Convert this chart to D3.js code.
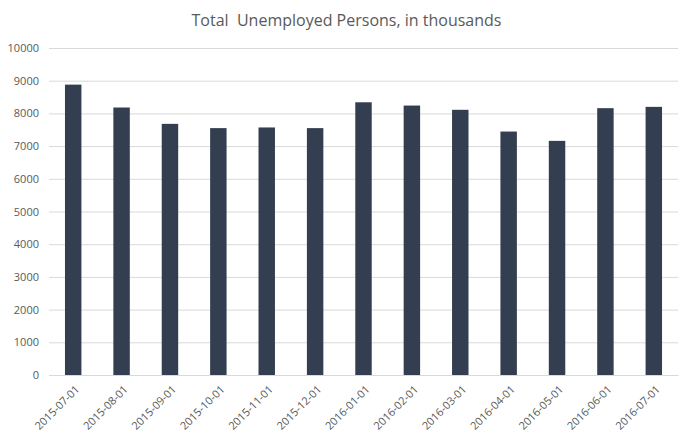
<!DOCTYPE html>
<html>
<head>
<meta charset="utf-8">
<script src="https://cdn.jsdelivr.net/npm/d3@7"></script>
<style>
  body { margin: 0; background: #fff; }
  svg { display: block; }
</style>
</head>
<body>
<div id="chart"></div>
<script>
// data
const aMonth = ["2015-07-01", "2015-08-01", "2015-09-01", "2015-10-01", "2015-11-01", "2015-12-01",
  "2016-01-01", "2016-02-01", "2016-03-01", "2016-04-01", "2016-05-01", "2016-06-01", "2016-07-01"];
const aUnemployed = [8880, 8180, 7680, 7550, 7570, 7550, 8340, 8240, 8110, 7445, 7160, 8160, 8200];
const aYTick = [0, 1000, 2000, 3000, 4000, 5000, 6000, 7000, 8000, 9000, 10000];
const sTitle = "Total\u00a0 Unemployed Persons, in thousands";

const iWidth = 693, iHeight = 441;
const oMargin = { top: 48, right: 15, bottom: 66, left: 49 }; // plot area
const iWidthInner = iWidth - oMargin.left - oMargin.right;
const iHeightInner = iHeight - oMargin.top - oMargin.bottom;
const sFont = "'Open Sans', 'Noto Sans', sans-serif";
const sTextColor = "#595959";

const d3Svg = d3.select("#chart").append("svg")
  .attr("width", iWidth)
  .attr("height", iHeight);

const d3XScale = d3.scaleBand().domain(aMonth).range([0, iWidthInner])
  .paddingInner(0.66).paddingOuter(0.33);
const d3YScale = d3.scaleLinear().domain([0, 10000]).range([iHeightInner, 0]);

// title
d3Svg.append("text")
  .attr("x", iWidth / 2)
  .attr("y", 26)
  .attr("text-anchor", "middle")
  .attr("font-family", sFont)
  .attr("font-size", "16px")
  .attr("fill", sTextColor)
  .text(sTitle);

const g = d3Svg.append("g").attr("transform", `translate(${oMargin.left},${oMargin.top})`);

// gridlines + y labels
const gY = g.append("g").call(d3.axisLeft(d3YScale).tickValues(aYTick).tickFormat(d3.format("d"))
  .tickSize(-iWidthInner).tickPadding(10));
gY.select(".domain").remove();
gY.selectAll(".tick line").attr("stroke", "#d9d9d9").attr("stroke-width", 1);
gY.selectAll(".tick text")
  .attr("font-family", sFont)
  .attr("font-size", "11px")
  .attr("fill", sTextColor);

// bars
g.selectAll("rect").data(aUnemployed)
  .enter()
  .append("rect")
  .attr("x", (v, i) => d3XScale(aMonth[i]))
  .attr("y", v => d3YScale(v))
  .attr("width", d3XScale.bandwidth())
  .attr("height", v => iHeightInner - d3YScale(v))
  .attr("fill", "#333f50");

// x labels, rotated
const gX = g.append("g").attr("transform", `translate(0,${iHeightInner})`)
  .call(d3.axisBottom(d3XScale).tickSize(0).tickPadding(0));
gX.select(".domain").attr("stroke", "#d9d9d9");
gX.selectAll(".tick text")
  .attr("font-family", sFont)
  .attr("font-size", "11px")
  .attr("fill", sTextColor)
  .attr("text-anchor", "end")
  .attr("dy", 0)
  .attr("transform", "translate(7,15) rotate(-45)");
</script>
</body>
</html>
